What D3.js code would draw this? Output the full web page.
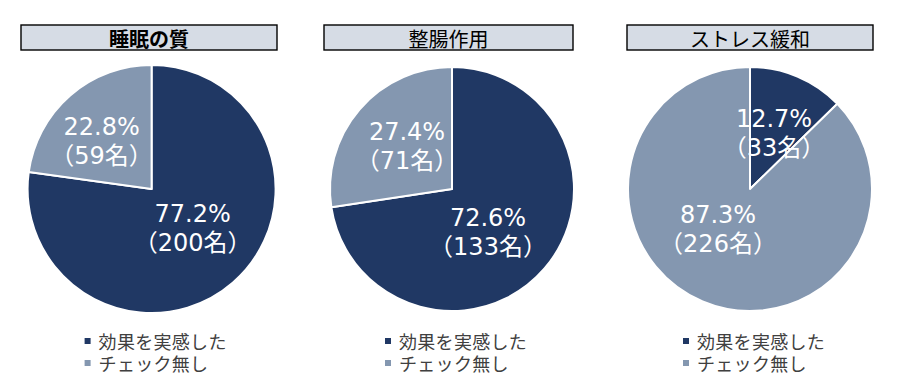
<!DOCTYPE html>
<html><head><meta charset="utf-8">
<script src="https://cdn.jsdelivr.net/npm/d3@7"></script>
<style>
html,body{margin:0;padding:0;background:#fff;}
svg{display:block;font-family:"Noto Sans CJK JP","Noto Sans",sans-serif;}
</style></head>
<body>
<svg id="c" width="905" height="389"></svg>
<script>
// ---- data ----
const titles = ["睡眠の質", "整腸作用", "ストレス緩和"];
const effectPct = [77.2, 72.6, 12.7];
const effectN = [200, 133, 33];
const nonePct = [22.8, 27.4, 87.3];
const noneN = [59, 71, 226];
const legendLabels = ["効果を実感した", "チェック無し"];

// ---- layout ----
const colors = ["#203864", "#8497b0"];
const centersX = [151.6, 452, 750];
const centerY = 189;
const radii = [124, 122, 122];
const titleBoxes = [[21, 277], [324, 573], [627, 873]];
const titleBold = [true, false, false];
// label block centers, relative to pie centre [effect, none]
const labelOffsets = [
  [[41, 39], [-50, -48]],
  [[36, 43], [-45, -43]],
  [[24, -56], [-32, 40]]
];

const svg = d3.select("#c");
const pie = d3.pie().sort(null).value(d => d.v);

titles.forEach((t, i) => {
  const g = svg.append("g");
  const [x0, x1] = titleBoxes[i];
  g.append("rect").attr("x", x0).attr("y", 25).attr("width", x1 - x0).attr("height", 25)
    .attr("fill", "#d6dce5").attr("stroke", "#000").attr("stroke-width", 1.4);
  g.append("text").attr("x", (x0 + x1) / 2).attr("y", 38)
    .attr("text-anchor", "middle").attr("dominant-baseline", "central")
    .attr("font-size", 20).attr("font-weight", titleBold[i] ? "bold" : "normal")
    .attr("fill", "#000").text(t);

  const data = [
    {v: effectPct[i], n: effectN[i], c: colors[0]},
    {v: nonePct[i], n: noneN[i], c: colors[1]}
  ];
  const arc = d3.arc().innerRadius(0).outerRadius(radii[i]);
  const pg = g.append("g").attr("transform", `translate(${centersX[i]},${centerY})`);
  const arcs = pie(data);
  pg.selectAll("path").data(arcs).join("path")
    .attr("d", arc).attr("fill", d => d.data.c)
    .attr("stroke", "#fff").attr("stroke-width", 2).attr("stroke-linejoin", "round");

  arcs.forEach((a, k) => {
    const [dx, dy] = labelOffsets[i][k];
    const tg = pg.append("text").attr("text-anchor", "middle")
      .style("font-family", "'DejaVu Sans','Noto Sans CJK JP',sans-serif")
      .attr("font-size", 24).attr("fill", "#fff");
    tg.append("tspan").attr("x", dx).attr("y", dy - 14.5).attr("dominant-baseline", "central")
      .text(a.data.v.toFixed(1) + "%");
    tg.append("tspan").attr("x", dx).attr("y", dy + 14.5).attr("dominant-baseline", "central")
      .text("（" + a.data.n + "名）");
  });

  // legend
  const lx = centersX[i] - 64;
  legendLabels.forEach((l, k) => {
    const ly = 341 + k * 22;
    g.append("rect").attr("x", lx - 3).attr("y", ly - 3).attr("width", 6).attr("height", 6)
      .attr("fill", colors[k]);
    g.append("text").attr("x", lx + 11).attr("y", ly).attr("dominant-baseline", "central")
      .attr("font-size", 18).attr("letter-spacing", 0.3).attr("fill", "#404040").text(l);
  });
});
</script>
</body></html>
